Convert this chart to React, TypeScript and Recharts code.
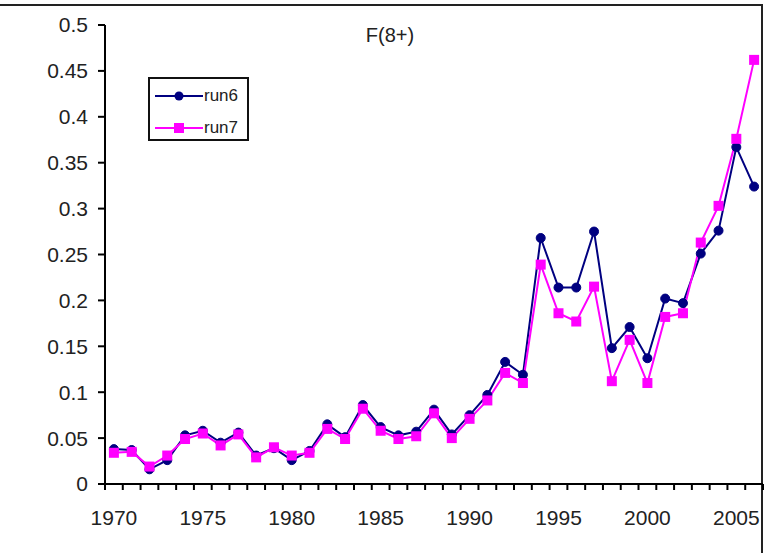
import React from 'react';
import { LineChart, Line, XAxis, YAxis } from 'recharts';

const years = [
  1970, 1971, 1972, 1973, 1974, 1975, 1976, 1977, 1978, 1979,
  1980, 1981, 1982, 1983, 1984, 1985, 1986, 1987, 1988, 1989,
  1990, 1991, 1992, 1993, 1994, 1995, 1996, 1997, 1998, 1999,
  2000, 2001, 2002, 2003, 2004, 2005, 2006,
];
const run6 = [
  0.038, 0.037, 0.016, 0.026, 0.053, 0.058, 0.045, 0.056, 0.031, 0.039,
  0.026, 0.036, 0.065, 0.051, 0.086, 0.062, 0.053, 0.057, 0.081, 0.054,
  0.075, 0.097, 0.133, 0.119, 0.268, 0.214, 0.214, 0.275, 0.148, 0.171,
  0.137, 0.202, 0.197, 0.251, 0.276, 0.367, 0.324,
];
const run7 = [
  0.034, 0.035, 0.019, 0.031, 0.049, 0.055, 0.042, 0.054, 0.029, 0.040,
  0.031, 0.034, 0.060, 0.049, 0.082, 0.058, 0.049, 0.052, 0.077, 0.050,
  0.071, 0.091, 0.121, 0.110, 0.239, 0.186, 0.177, 0.215, 0.112, 0.157,
  0.110, 0.182, 0.186, 0.263, 0.303, 0.376, 0.462,
];
const yTicks = [0, 0.05, 0.1, 0.15, 0.2, 0.25, 0.3, 0.35, 0.4, 0.45, 0.5];
const xLabels = [1970, 1975, 1980, 1985, 1990, 1995, 2000, 2005];

const NAVY = '#000080';
const MAGENTA = '#ff00ff';
const FONT = '"Liberation Sans", Arial, sans-serif';
const TEXT = '#222';

const data = years.map((year, i) => ({ year, run6: run6[i], run7: run7[i] }));

// tick marks sit between the years (Excel category axis), labels on the years
const halfTicks = [...years.map((y) => y - 0.5), years[years.length - 1] + 0.5];
const xTicks = [...halfTicks, ...xLabels];

const XTick = (props: any) => {
  const { x, y, payload } = props;
  const v = payload.value;
  if (Number.isInteger(v)) {
    return (
      <text x={x} y={y + 33} textAnchor="middle" dominantBaseline="central" fontSize={21} fontFamily={FONT} fill={TEXT}>
        {v}
      </text>
    );
  }
  return <line x1={x} y1={y} x2={x} y2={y + 6} stroke="#000" strokeWidth={2} />;
};

const CircleDot = (props: any) => {
  const { cx, cy } = props;
  if (cx == null || cy == null) return null;
  return <circle cx={cx} cy={cy} r={4.5} fill={NAVY} stroke={NAVY} />;
};

const SquareDot = (props: any) => {
  const { cx, cy } = props;
  if (cx == null || cy == null) return null;
  return <rect x={cx - 5} y={cy - 5} width={10} height={10} fill={MAGENTA} />;
};

const LegendBox = () => (
  <div
    style={{
      position: 'absolute',
      left: 148,
      top: 77,
      width: 101,
      height: 64,
      border: '2px solid #111',
      boxSizing: 'border-box',
      background: '#fff',
      fontFamily: FONT,
      fontSize: 17,
      color: TEXT,
    }}
  >
    {[
      { name: 'run6', color: NAVY, square: false },
      { name: 'run7', color: MAGENTA, square: true },
    ].map((e, i) => (
      <div key={e.name} style={{ position: 'absolute', left: 3, top: 6 + i * 32, height: 22, display: 'flex', alignItems: 'center' }}>
        <svg width={50} height={22}>
          <line x1={2} y1={11} x2={50} y2={11} stroke={e.color} strokeWidth={2} />
          {e.square ? (
            <rect x={21} y={6} width={10} height={10} fill={e.color} />
          ) : (
            <circle cx={26} cy={11} r={4.5} fill={e.color} />
          )}
        </svg>
        <span style={{ marginLeft: 1, lineHeight: '22px' }}>{e.name}</span>
      </div>
    ))}
  </div>
);

export default function App() {
  return (
    <div style={{ position: 'absolute', left: 0, top: 0, width: 766, height: 553, overflow: 'hidden', background: '#fff' }}>
      <div
        style={{
          position: 'absolute',
          left: -10,
          top: 4,
          width: 773,
          height: 600,
          borderTop: '2px solid #222',
          borderRight: '2px solid #222',
          boxSizing: 'border-box',
        }}
      />
      <div
        style={{
          position: 'absolute',
          left: 0,
          top: 24,
          width: 766,
          textAlign: 'center',
          paddingLeft: 14,
          boxSizing: 'border-box',
          fontFamily: FONT,
          fontSize: 20,
          color: TEXT,
          lineHeight: '22px',
        }}
      >
        F(8+)
      </div>
      <div style={{ position: 'absolute', left: 0, top: 0 }}>
        <LineChart width={766} height={553} data={data} margin={{ top: 25, right: 3, left: 0, bottom: 0 }}>
          <XAxis
            dataKey="year"
            type="number"
            domain={[1969.5, 2006.5]}
            ticks={xTicks}
            interval={0}
            allowDataOverflow
            height={69}
            tickSize={0}
            tickMargin={0}
            tickLine={false}
            axisLine={{ stroke: '#000', strokeWidth: 2 }}
            tick={<XTick />}
          />
          <YAxis
            type="number"
            domain={[0, 0.5]}
            ticks={yTicks}
            interval={0}
            width={105}
            tickSize={7}
            tickMargin={10}
            axisLine={{ stroke: '#000', strokeWidth: 2 }}
            tickLine={{ stroke: '#000', strokeWidth: 2 }}
            tickFormatter={(v: number) => String(Number(v.toFixed(2)))}
            tick={{ fontSize: 21, fontFamily: FONT, fill: TEXT }}
          />
          <Line
            type="linear"
            dataKey="run6"
            stroke={NAVY}
            strokeWidth={2}
            dot={<CircleDot />}
            activeDot={false}
            isAnimationActive={false}
          />
          <Line
            type="linear"
            dataKey="run7"
            stroke={MAGENTA}
            strokeWidth={2}
            dot={<SquareDot />}
            activeDot={false}
            isAnimationActive={false}
          />
        </LineChart>
      </div>
      <LegendBox />
    </div>
  );
}
